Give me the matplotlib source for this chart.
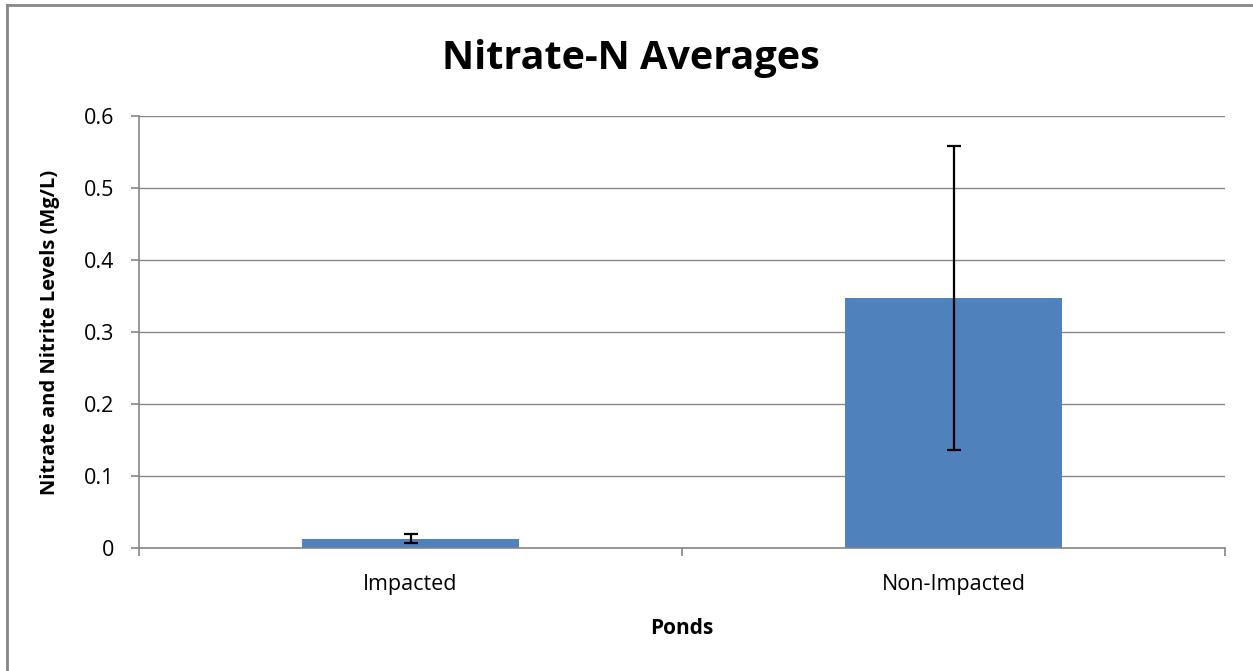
import matplotlib.pyplot as plt
from matplotlib.lines import Line2D

plt.rcParams['font.family'] = ['Open Sans', 'DejaVu Sans']

# Data
ponds = ["Impacted", "Non-Impacted"]
averages = [0.013, 0.347]
errors = [0.006, 0.211]
y_ticks = [0, 0.1, 0.2, 0.3, 0.4, 0.5, 0.6]
y_tick_labels = ["0", "0.1", "0.2", "0.3", "0.4", "0.5", "0.6"]

W, H = 1253, 671
fig = plt.figure(figsize=(W / 100, H / 100), dpi=100)
ax = fig.add_axes([139 / W, 1 - 548 / H, (1225 - 139) / W, (548 - 116) / H])

grey = "#868686"
x = list(range(len(ponds)))

ax.bar(x, averages, width=0.4, color="#4F81BD", zorder=2)
ax.errorbar(x, averages, yerr=errors, fmt="none", ecolor="black",
            elinewidth=1.6, capsize=5, capthick=1.6, zorder=3)

ax.set_xlim(-0.5, len(ponds) - 0.5)
ax.set_ylim(0, 0.6)
ax.set_yticks(y_ticks)
ax.set_yticklabels(y_tick_labels, fontsize=15.5)
ax.yaxis.grid(True, color=grey, linewidth=1.0, zorder=0)

# category boundaries get tick marks, centres get labels
ax.set_xticks([i - 0.5 for i in range(len(ponds) + 1)])
ax.set_xticklabels([])
ax.set_xticks(x, minor=True)
ax.set_xticklabels(ponds, minor=True, fontsize=15.5)
ax.tick_params(axis="x", which="major", direction="out", length=6, color=grey, width=1.2)
ax.tick_params(axis="x", which="minor", length=0, pad=19)
ax.tick_params(axis="y", direction="out", length=6, color=grey, width=1.2, pad=12)

for side in ["top", "right"]:
    ax.spines[side].set_visible(False)
ax.spines["left"].set_color(grey)
ax.spines["bottom"].set_color(grey)
ax.spines["left"].set_linewidth(1.2)
ax.spines["bottom"].set_linewidth(1.2)

ax.set_xlabel("Ponds", fontsize=15, fontweight="bold", labelpad=16)
ax.set_ylabel("Nitrate and Nitrite Levels (Mg/L)", fontsize=14.5, fontweight="bold", labelpad=17)

fig.text(631 / W, 1 - 58 / H, "Nitrate-N Averages", fontsize=28.5, fontweight="bold",
         ha="center", va="center")

# chart border (only left and top edges fall inside the image)
fig.add_artist(Line2D([6.5 / W, 6.5 / W], [0, 1 - 4.5 / H], color=grey, linewidth=2))
fig.add_artist(Line2D([6.5 / W, 1], [1 - 4.5 / H, 1 - 4.5 / H], color=grey, linewidth=2))

fig.savefig("out.png", dpi=100)
